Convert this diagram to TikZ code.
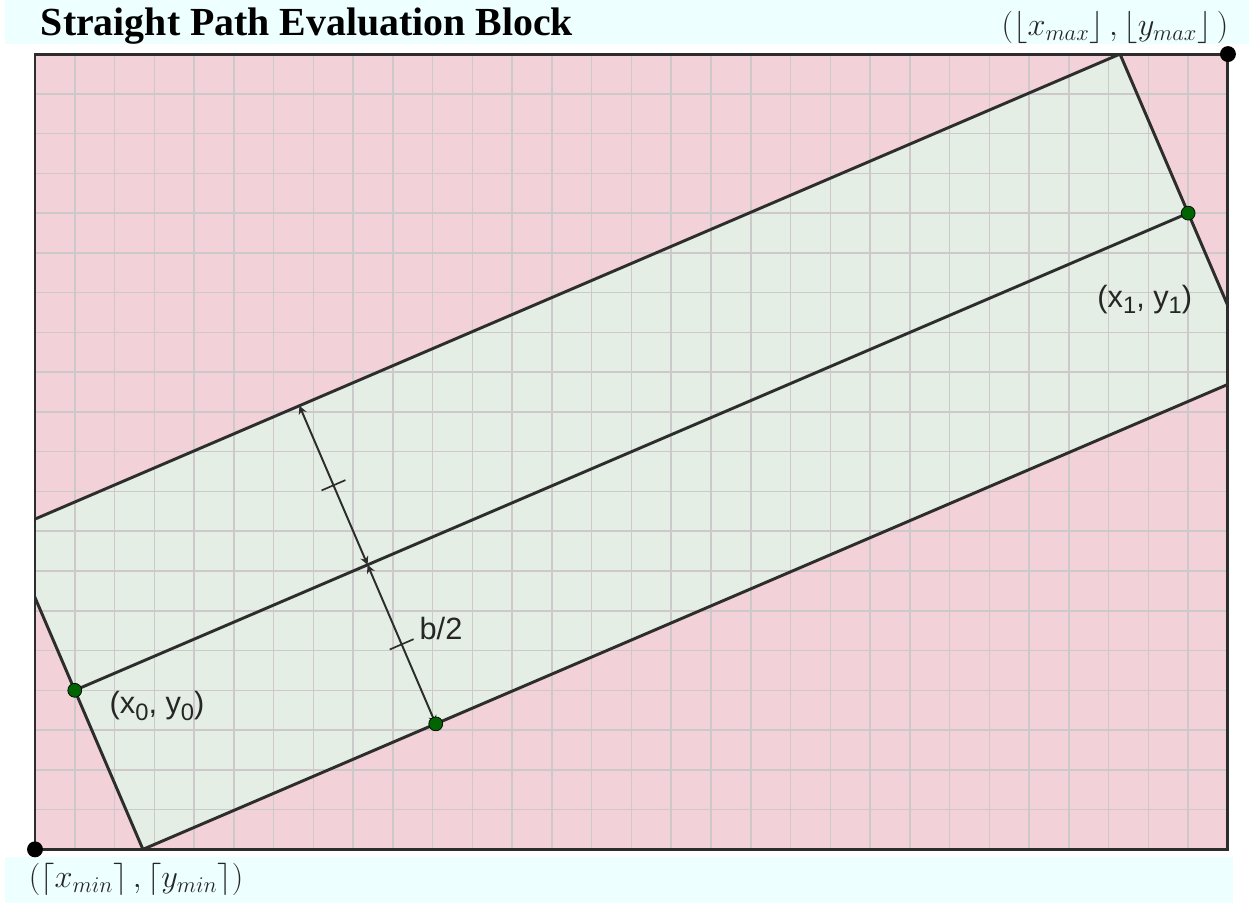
\documentclass[tikz,border=0pt]{standalone}
\usepackage{fontspec}
\setmainfont{Liberation Serif}
\newfontfamily\labelfont{Liberation Sans}
\usepackage{amsmath}
\usepackage{graphicx}
\usepackage{tikz}
\usepackage{xcolor}
\usetikzlibrary{calc, arrows.meta}
\definecolor{bandcyan}{RGB}{238,255,255}
\definecolor{blockpink}{RGB}{242,210,216}
\definecolor{pathgreen}{RGB}{228,238,228}
\definecolor{edgegray}{RGB}{45,45,45}
\definecolor{dotgreen}{RGB}{0,100,0}
\definecolor{gridgray}{RGB}{205,200,202}
\newcommand{\lowsub}[1]{\raisebox{-0.4ex}{\fontsize{17}{20}\selectfont #1}}
\tikzset{
    edgeline/.style={edgegray, line width=2.1pt},
    gridline/.style={gridgray, line width=1.1pt},
    dimline/.style={edgegray, line width=1.4pt, {Stealth[length=6pt,width=6pt]}-{Stealth[length=6pt,width=6pt]}},
    tickline/.style={edgegray, line width=1.2pt},
    blackdot/.style={circle, fill=black, inner sep=0pt, minimum size=0.4cm},
    greendot/.style={circle, draw=black, line width=0.5pt, fill=dotgreen, inner sep=0pt, minimum size=0.35cm},
    sanslabel/.style={font=\labelfont\fontsize{22}{26}\selectfont, text=black!85},
    mathlabel/.style={font=\fontsize{24}{28}\selectfont, text=black!85}
}

\begin{document}
\begin{tikzpicture}
        \useasboundingbox (-0.88,-1.35) rectangle (30.53,21.36);
        \fill [bandcyan] (-0.75,20.25) rectangle (30.53,21.36);
        \fill [bandcyan] (-0.75,-1.35) rectangle (30.13,-0.2);
        \fill [blockpink] (0,0) rectangle (30,20);

        \coordinate (p0) at (1,4);
        \coordinate (p1) at (29,16);
        \coordinate (ul) at ($(p0)+(-12/7,4)$);
        \coordinate (ll) at ($(p0)+(12/7,-4)$);
        \coordinate (ur) at ($(p1)+(-12/7,4)$);
        \coordinate (lr) at ($(p1)+(12/7,-4)$);

        \begin{scope}
            \clip (0,0) rectangle (30,20);
            \fill [pathgreen] (ul) -- (ur) -- (lr) -- (ll) -- cycle;
            \draw [gridline] (0,0) grid (30,20);
            \draw [edgeline] (ul) -- (ur) -- (lr) -- (ll) -- cycle;
        \end{scope}
        \draw [edgeline] (p0) -- (p1);
        \draw [edgeline] (0,0) rectangle (30,20);

        \coordinate (mid) at ($(p0)!0.263!(p1)$);
        \coordinate (top) at ($(mid)+(-12/7,4)$);
        \coordinate (bot) at ($(mid)+(12/7,-4)$);
        \draw [dimline] (mid) -- (top);
        \draw [dimline] (mid) -- (bot);
        \draw [tickline] ($(mid)!0.5!(top)+(-0.3,-0.13)$) -- ($(mid)!0.5!(top)+(0.3,0.13)$);
        \draw [tickline] ($(mid)!0.5!(bot)+(-0.3,-0.13)$) -- ($(mid)!0.5!(bot)+(0.3,0.13)$);

        \node [blackdot] (cmin) at (0,0) {};
        \node [blackdot] (cmax) at (30,20) {};
        \node [greendot] (start) at (p0) {};
        \node [greendot] (end) at (p1) {};
        \node [greendot] (edge) at (bot) {};

        \node [font=\bfseries\fontsize{28.5}{32}\selectfont] (title) at (6.84,20.7) {Straight Path Evaluation Block};
        \node [mathlabel] (maxlabel) at (27.16,20.66) {\scalebox{0.93}{$(\lfloor x_{max}\rfloor\,,\lfloor y_{max}\rfloor\,)$}};
        \node [mathlabel] (minlabel) at (2.54,-0.75) {\scalebox{0.93}{$(\lceil x_{min}\rceil\,,\lceil y_{min}\rceil)$}};
        \node [sanslabel] (startlabel) at (3.07,3.6) {(x\lowsub{0}, y\lowsub{0})};
        \node [sanslabel] (endlabel) at (27.91,13.83) {(x\lowsub{1}, y\lowsub{1})};
        \node [sanslabel] (halfwidth) at (10.21,5.56) {b/2};
\end{tikzpicture}
\end{document}
